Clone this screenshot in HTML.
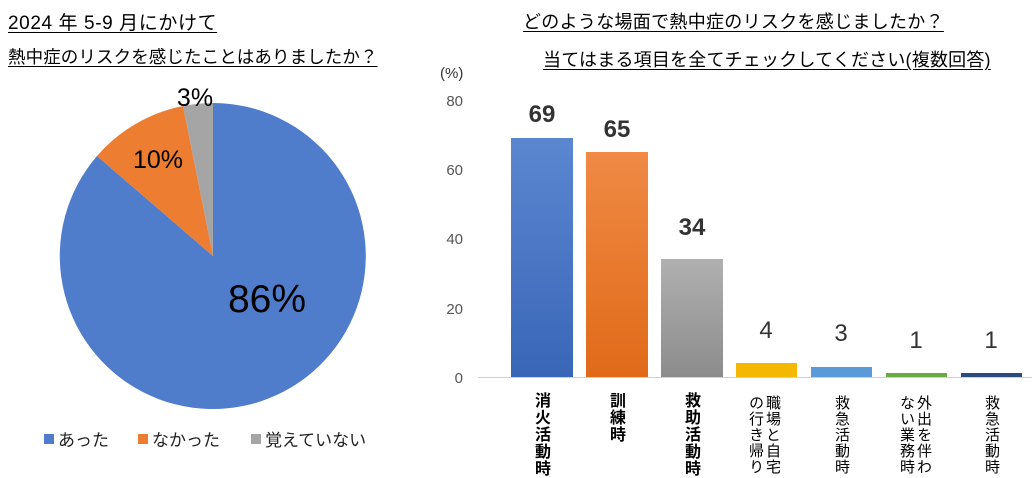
<!DOCTYPE html>
<html><head><meta charset="utf-8"><style>
body{margin:0;width:1032px;height:478px;background:#fff;overflow:hidden;font-family:"Liberation Sans","Noto Sans CJK JP",sans-serif;position:relative}
.t{position:absolute;white-space:nowrap;color:#000}
.v{position:absolute;writing-mode:vertical-rl;font-size:15px;line-height:17px;color:#000;letter-spacing:1px}
</style></head><body>
<div class="t" style="left:8px;top:8px;font-size:19px;letter-spacing:0.6px;text-decoration:underline;text-underline-offset:3px">2024 年 5-9 月にかけて</div>
<div class="t" style="left:8px;top:44px;font-size:17.5px;letter-spacing:0.1px;text-decoration:underline;text-underline-offset:3px">熱中症のリスクを感じたことはありましたか？</div>
<div class="t" style="left:523px;top:8px;font-size:18px;letter-spacing:0.3px;text-decoration:underline;text-underline-offset:3px">どのような場面で熱中症のリスクを感じましたか？</div>
<div class="t" style="left:543px;top:46px;font-size:18px;letter-spacing:0.2px;text-decoration:underline;text-underline-offset:3px">当てはまる項目を全てチェックしてください(複数回答)</div>
<svg width="1032" height="478" style="position:absolute;left:0;top:0">
<defs>
<linearGradient id="gb" x1="0" y1="0" x2="0" y2="1"><stop offset="0" stop-color="#5b86d0"/><stop offset="1" stop-color="#3a66b8"/></linearGradient>
<linearGradient id="go" x1="0" y1="0" x2="0" y2="1"><stop offset="0" stop-color="#f08a45"/><stop offset="1" stop-color="#e06a18"/></linearGradient>
<linearGradient id="gg" x1="0" y1="0" x2="0" y2="1"><stop offset="0" stop-color="#b0b0b0"/><stop offset="1" stop-color="#8c8c8c"/></linearGradient>
</defs>
<path d="M213,256 L213,103 A153,153 0 1 1 97,156 Z" fill="#4f7ccb"/>
<path d="M213,256 L97,156 A153,153 0 0 1 183,106 Z" fill="#ed7d31"/>
<path d="M213,256 L183,106 A153,153 0 0 1 213,103 Z" fill="#a5a5a5"/>
<text x="267" y="312" font-size="39" text-anchor="middle" font-family="Liberation Sans">86%</text>
<text x="158" y="168" font-size="25" text-anchor="middle" font-family="Liberation Sans">10%</text>
<text x="195" y="106" font-size="25" text-anchor="middle" font-family="Liberation Sans">3%</text>
<rect x="44" y="434" width="10" height="10" fill="#4f7ccb"/>
<rect x="138" y="434" width="10" height="10" fill="#ed7d31"/>
<rect x="251" y="434" width="10" height="10" fill="#a5a5a5"/>
<g font-size="17" font-family="Liberation Sans, Noto Sans CJK JP, sans-serif" fill="#222">
<text x="58" y="446">あった</text><text x="152" y="446">なかった</text><text x="265" y="446">覚えていない</text>
</g>
<line x1="478" y1="377.5" x2="1032" y2="377.5" stroke="#d0d0d0"/>
<g font-size="15" fill="#555" text-anchor="end" font-family="Liberation Sans">
<text x="463" y="106">80</text><text x="463" y="175">60</text><text x="463" y="244">40</text><text x="463" y="314">20</text><text x="463" y="383">0</text>
</g>
<text x="440" y="78" font-size="15" fill="#333" font-family="Liberation Sans, Noto Sans CJK JP">(%)</text>
<rect x="511" y="138" width="62" height="239" fill="url(#gb)"/>
<rect x="586" y="152" width="62" height="225" fill="url(#go)"/>
<rect x="661" y="259" width="62" height="118" fill="url(#gg)"/>
<rect x="736" y="363" width="61" height="14" fill="#f5b800"/>
<rect x="811" y="367" width="61" height="10" fill="#5a9ad8"/>
<rect x="886" y="373" width="61" height="4" fill="#6aaa46"/>
<rect x="961" y="373" width="61" height="4" fill="#2a4a80"/>
<g font-size="24" text-anchor="middle" font-family="Liberation Sans" fill="#333">
<text x="542" y="122" font-weight="bold">69</text><text x="617" y="137" font-weight="bold">65</text><text x="692" y="235" font-weight="bold">34</text>
<text x="766" y="338">4</text><text x="841" y="341">3</text><text x="916" y="348">1</text><text x="991" y="348">1</text>
</g>
</svg>
<div class="v" style="left:532px;top:392px;font-weight:bold;font-size:16px">消火活動時</div>
<div class="v" style="left:607px;top:392px;font-weight:bold;font-size:16px">訓練時</div>
<div class="v" style="left:682px;top:392px;font-weight:bold;font-size:16px">救助活動時</div>
<div class="v" style="left:747px;top:395px;height:80px">職場と自宅の行き帰り</div>
<div class="v" style="left:833px;top:395px">救急活動時</div>
<div class="v" style="left:898px;top:395px;height:80px">外出を伴わない業務時</div>
<div class="v" style="left:983px;top:395px">救急活動時</div>
</body></html>
